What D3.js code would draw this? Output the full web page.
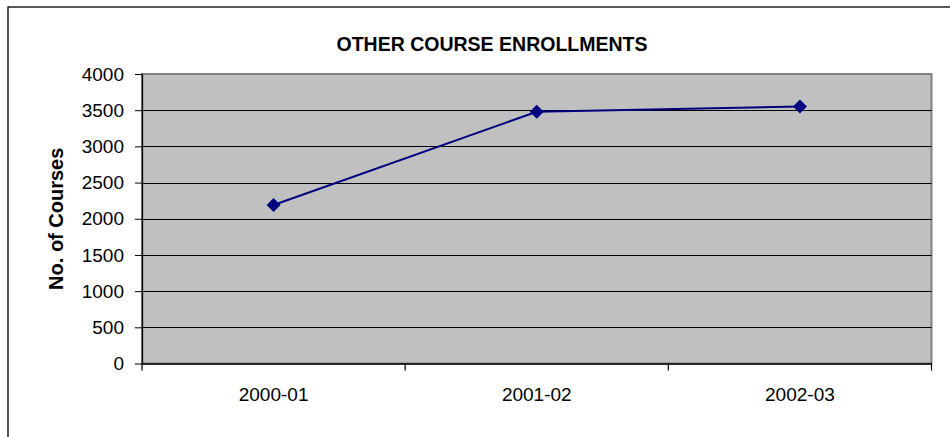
<!DOCTYPE html>
<html>
<head>
<meta charset="utf-8">
<script src="https://cdn.jsdelivr.net/npm/d3@7"></script>
<style>
  html, body { margin: 0; padding: 0; background: #fff; }
  svg { display: block; font-family: "Liberation Sans", Arial, sans-serif; }
</style>
</head>
<body>
<svg id="chart" width="950" height="437"></svg>
<script>
const categories = ["2000-01", "2001-02", "2002-03"];
const enrollments = [2190, 3479, 3550];
const yTicks = [0, 500, 1000, 1500, 2000, 2500, 3000, 3500, 4000];
const titleText = "OTHER COURSE ENROLLMENTS";
const yLabelText = "No. of Courses";

const svg = d3.select("#chart");
const m = { left: 142, right: 931.5, top: 74, bottom: 363.5 };

// outer frame (left and top edges visible)
svg.append("rect").attr("x", 8).attr("y", 7).attr("width", 960).attr("height", 460)
  .attr("fill", "#fff").attr("stroke", "#000").attr("stroke-width", 1.3);

const x = d3.scaleBand().domain(categories).range([m.left, m.right]).padding(0);
const y = d3.scaleLinear().domain([0, 4000]).range([m.bottom, m.top]);

// plot area
svg.append("rect").attr("x", m.left).attr("y", m.top)
  .attr("width", m.right - m.left).attr("height", m.bottom - m.top)
  .attr("fill", "#c0c0c0").attr("stroke", "#808080").attr("stroke-width", 2);

// gridlines
svg.append("g").selectAll("line").data(yTicks.filter(d => d > 0 && d < 4000)).join("line")
  .attr("x1", m.left).attr("x2", m.right)
  .attr("y1", d => Math.round(y(d)) + 0.5).attr("y2", d => Math.round(y(d)) + 0.5)
  .attr("stroke", "#000").attr("stroke-width", 1);

// y axis
const yAxis = d3.axisLeft(y).tickValues(yTicks).tickFormat(d3.format("d"))
  .tickSize(7).tickPadding(11).tickSizeOuter(0);
const gy = svg.append("g").attr("transform", `translate(${m.left},0)`).call(yAxis);
gy.select(".domain").attr("stroke", "#000").attr("stroke-width", 1.3);
gy.selectAll(".tick line").attr("stroke", "#000");
gy.selectAll(".tick text").attr("font-size", 19).attr("fill", "#000")
  .attr("font-family", "'Liberation Sans', Arial, sans-serif");

// x axis
const xAxis = d3.axisBottom(x).tickSize(0).tickPadding(24).tickSizeOuter(0);
const gx = svg.append("g").attr("transform", `translate(0,${m.bottom})`).call(xAxis);
gx.select(".domain").attr("stroke", "#000").attr("stroke-width", 1.5);
gx.selectAll(".tick text").attr("font-size", 19).attr("fill", "#000")
  .attr("font-family", "'Liberation Sans', Arial, sans-serif");
// category boundary ticks
const bounds = categories.map(c => x(c)).concat([x(categories[categories.length - 1]) + x.bandwidth()]);
svg.append("g").selectAll("line").data(bounds).join("line")
  .attr("x1", d => d).attr("x2", d => d)
  .attr("y1", m.bottom).attr("y2", m.bottom + 7)
  .attr("stroke", "#000").attr("stroke-width", 1.2);

// line
const cx = c => x(c) + x.bandwidth() / 2;
const line = d3.line().x((d, i) => cx(categories[i])).y(d => y(d));
svg.append("path").datum(enrollments).attr("d", line)
  .attr("fill", "none").attr("stroke", "#000080").attr("stroke-width", 2);

// diamond markers
svg.append("g").selectAll("path").data(enrollments).join("path")
  .attr("transform", (d, i) => `translate(${cx(categories[i])},${y(d)})`)
  .attr("d", "M0,-7L7,0L0,7L-7,0Z")
  .attr("fill", "#000080");

// title
svg.append("text").attr("x", 492).attr("y", 51).attr("text-anchor", "middle")
  .attr("font-size", 19.5).attr("font-weight", "bold").text(titleText);

// y label
svg.append("text").attr("transform", `translate(63,${(m.top + m.bottom) / 2}) rotate(-90)`)
  .attr("text-anchor", "middle").attr("font-size", 20).attr("font-weight", "bold").text(yLabelText);
</script>
</body>
</html>
